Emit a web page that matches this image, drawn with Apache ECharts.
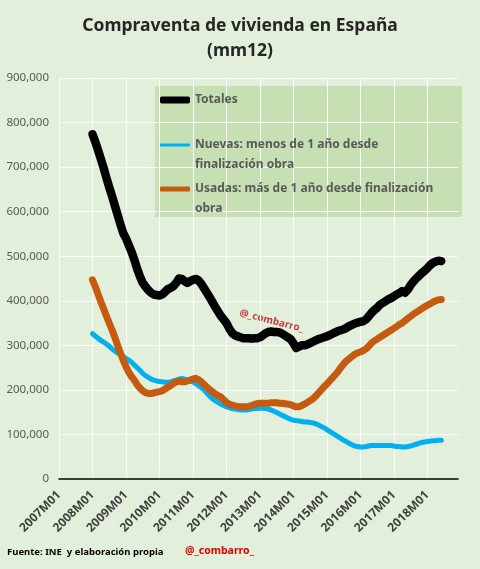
<!DOCTYPE html>
<html>
<head>
<meta charset="utf-8">
<script src="https://cdn.jsdelivr.net/npm/echarts@6/dist/echarts.min.js"></script>
<style>
  html, body { margin: 0; padding: 0; }
  #chart { width: 480px; height: 569px; }
</style>
</head>
<body>
<div id="chart"></div>
<script>
// Compraventa de viviendas, media móvil 12 meses (miles), 2008M01 - 2018M06
const firstYear = 2007;
const lastYear = 2018;
const dataStart = 12; // primer dato en 2008M01

const totales = [
  774, 757, 738, 718, 698, 676, 655, 635, 614, 593, 572, 552, // 2008
  540, 525, 510, 492, 472, 455, 440, 432, 424, 418, 414, 413, // 2009
  412, 414, 420, 426, 429, 433, 440, 450, 449, 444, 440, 444, // 2010
  447, 449, 446, 438, 428, 418, 408, 397, 386, 376, 366, 358, // 2011
  350, 338, 328, 323, 320, 318, 316, 316, 316, 315, 316, 316, // 2012
  318, 322, 327, 330, 331, 330, 330, 329, 326, 322, 318, 314, // 2013
  305, 294, 297, 300, 300, 302, 305, 308, 311, 314, 316, 318, // 2014
  320, 323, 326, 329, 332, 334, 336, 339, 343, 346, 349, 351, // 2015
  353, 354, 358, 365, 373, 379, 384, 391, 395, 399, 403, 406, // 2016
  410, 414, 417, 422, 418, 425, 435, 443, 450, 456, 462, 467, // 2017
  473, 480, 485, 488, 490, 489                                // 2018
];
const nuevas = [
  326, 321, 316, 311, 307, 303, 298, 292, 287, 283, 279, 275,
  271, 267, 262, 256, 250, 244, 237, 232, 228, 224, 222, 220,
  219, 218, 217, 217, 218, 220, 222, 224, 226, 224, 222, 220,
  218, 214, 210, 205, 200, 193, 186, 180, 176, 172, 168, 165,
  162, 160, 158, 157, 156, 155, 155, 155, 156, 157, 158, 158,
  159, 159, 158, 157, 155, 152, 149, 146, 143, 140, 137, 134,
  132, 131, 130, 129, 128, 128, 127, 126, 124, 121, 118, 115,
  111, 107, 103, 99, 95, 91, 87, 84, 80, 77, 74, 73,
  72, 72, 73, 74, 75, 75, 75, 75, 75, 75, 75, 75,
  74, 73, 73, 72, 72, 73, 74, 76, 78, 80, 82, 83,
  84, 85, 86, 86, 87, 87
];
const usadas = [
  447, 432, 415, 398, 382, 366, 350, 335, 318, 300, 283, 267,
  252, 240, 230, 222, 212, 204, 198, 194, 192, 192, 193, 195,
  196, 198, 202, 206, 210, 214, 218, 220, 218, 218, 220, 222,
  224, 226, 223, 218, 212, 206, 201, 196, 191, 187, 184, 178,
  172, 168, 166, 164, 163, 162, 162, 162, 163, 165, 167, 169,
  170, 170, 170, 170, 171, 171, 171, 170, 170, 169, 168, 167,
  164, 162, 162, 165, 168, 172, 176, 180, 186, 193, 200, 207,
  213, 220, 227, 234, 241, 250, 258, 265, 270, 275, 280, 283,
  285, 288, 292, 298, 305, 310, 314, 318, 322, 326, 330, 334,
  338, 342, 347, 350, 355, 360, 365, 370, 374, 378, 382, 386,
  390, 393, 397, 400, 402, 403
];

const serieNames = [
  'Totales',
  'Nuevas: menos de 1 año desde finalización obra',
  'Usadas: más de 1 año desde finalización obra'
];
// la primera línea vacía deja el icono a la altura de la primera línea de texto
const legendLabels = [
  'Totales',
  '\nNuevas: menos de 1 año desde\nfinalización obra',
  '\nUsadas: más de 1 año desde finalización\nobra'
];

// etiquetas de meses 2007M01 ... 2018M12
const months = [];
for (let y = firstYear; y <= lastYear; y++) {
  for (let m = 1; m <= 12; m++) {
    months.push(y + 'M' + (m < 10 ? '0' + m : m));
  }
}

const font = 'Noto Sans';
const colors = ['#000000', '#00b0f0', '#c55a11'];
const widths = [8.5, 5, 7];

const toPairs = arr => arr.map((v, i) => [months[dataStart + i], v]);

const chart = echarts.init(document.getElementById('chart'));

const legendTops = [90, 115, 159];
const legends = serieNames.map((name, i) => ({
  data: [name],
  left: 160,
  top: legendTops[i],
  padding: 0,
  selectedMode: false,
  icon: 'roundRect',
  itemWidth: 30,
  itemHeight: Math.round(widths[i]) - 2,
  formatter: () => legendLabels[i],
  textStyle: {
    fontFamily: font,
    fontWeight: 'bold',
    fontSize: 12,
    lineHeight: 20,
    color: '#595959'
  }
}));

const option = {
  backgroundColor: '#e2efda',
  animation: false,
  color: colors,
  title: {
    text: 'Compraventa de vivienda en España\n(mm12)',
    left: 'center',
    top: 9,
    textStyle: {
      fontFamily: font,
      fontWeight: 'bold',
      fontSize: 17.5,
      lineHeight: 25,
      color: '#262626'
    }
  },
  legend: legends,
  grid: {
    left: 59,
    right: 22,
    top: 78,
    bottom: 90
  },
  xAxis: {
    type: 'category',
    data: months,
    boundaryGap: false,
    axisLine: { lineStyle: { color: '#000', width: 1.5 } },
    axisTick: { show: false },
    axisLabel: {
      interval: idx => idx % 12 === 0,
      rotate: 45,
      margin: 14,
      fontFamily: font,
      fontSize: 12,
      fontWeight: 'bold',
      color: '#404040'
    },
    splitLine: {
      show: true,
      interval: idx => idx % 12 === 0,
      lineStyle: { color: '#ffffff', width: 1 }
    }
  },
  yAxis: {
    type: 'value',
    min: 0,
    max: 900,
    interval: 100,
    axisLine: { show: false },
    axisTick: { show: false },
    axisLabel: {
      margin: 10,
      fontFamily: font,
      fontSize: 11.5,
      color: '#595959',
      formatter: v => (v * 1000).toLocaleString('en-US')
    },
    splitLine: { lineStyle: { color: '#ffffff', width: 1 } }
  },
  graphic: [
    {
      type: 'rect',
      z: -1,
      shape: { x: 155, y: 86, width: 307, height: 131 },
      style: { fill: '#c6e0b4' }
    },
    {
      type: 'text',
      x: 241,
      y: 308,
      rotation: -0.25,
      style: {
        text: '@_combarro_',
        fill: '#c8383a',
        font: 'bold 10px "Noto Sans"'
      }
    },
    {
      type: 'text',
      x: 7,
      y: 547,
      style: {
        text: 'Fuente: INE  y elaboración propia',
        fill: '#000',
        font: 'bold 9.5px "Noto Sans"'
      }
    },
    {
      type: 'text',
      x: 185,
      y: 546,
      style: {
        text: '@_combarro_',
        fill: '#e00000',
        font: 'bold 10.5px "Noto Sans"'
      }
    }
  ],
  series: [
    { name: serieNames[0], data: toPairs(totales) },
    { name: serieNames[1], data: toPairs(nuevas) },
    { name: serieNames[2], data: toPairs(usadas) }
  ].map((s, i) => Object.assign(s, {
    type: 'line',
    symbol: 'none',
    smooth: false,
    lineStyle: { width: widths[i], color: colors[i], cap: 'round', join: 'round' }
  }))
};

chart.setOption(option);
</script>
</body>
</html>
